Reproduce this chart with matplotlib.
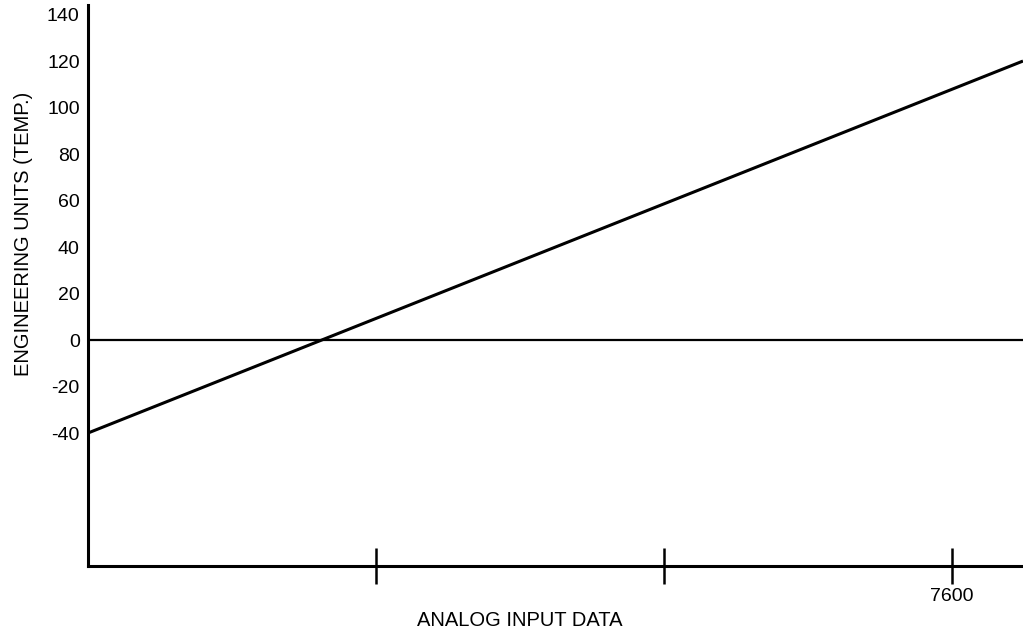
import matplotlib.pyplot as plt

plt.rcParams['font.family'] = ['Liberation Sans', 'DejaVu Sans']

# data
analog_in = [0, 8224]
temp_units = [-40, 120]
y_ticks = [-40, -20, 0, 20, 40, 60, 80, 100, 120, 140]
x_ticks = [2533.3, 5066.7, 7600]
x_tick_labels = ['', '', '7600']

fig = plt.figure(figsize=(10.23, 6.29), dpi=100)
ax = fig.add_axes([88 / 1023, 1 - 566 / 629, 1 - 88 / 1023, (566 - 5) / 629])

ax.plot(analog_in, temp_units, color='black', linewidth=2.2, solid_capstyle='butt', clip_on=False)
ax.axhline(0, color='black', linewidth=1.6)

ax.set_xlim(0, 8224)
ax.set_ylim(-97.2, 144.1)

for side in ['top', 'right']:
    ax.spines[side].set_visible(False)
for side in ['left', 'bottom']:
    ax.spines[side].set_linewidth(2.2)

ax.set_yticks(y_ticks)
ax.set_yticklabels([str(v) for v in y_ticks], fontsize=14)
ax.tick_params(axis='y', length=0, pad=6)

ax.set_xticks(x_ticks)
ax.set_xticklabels(x_tick_labels, fontsize=14)
ax.tick_params(axis='x', direction='inout', length=26, width=1.8, pad=3)

ax.set_xlabel('ANALOG INPUT DATA', fontsize=14.5, labelpad=4, x=0.462)
ax.set_ylabel('ENGINEERING UNITS (TEMP.)', fontsize=14.5, labelpad=10, y=0.592)

plt.savefig('out.png', dpi=100)
